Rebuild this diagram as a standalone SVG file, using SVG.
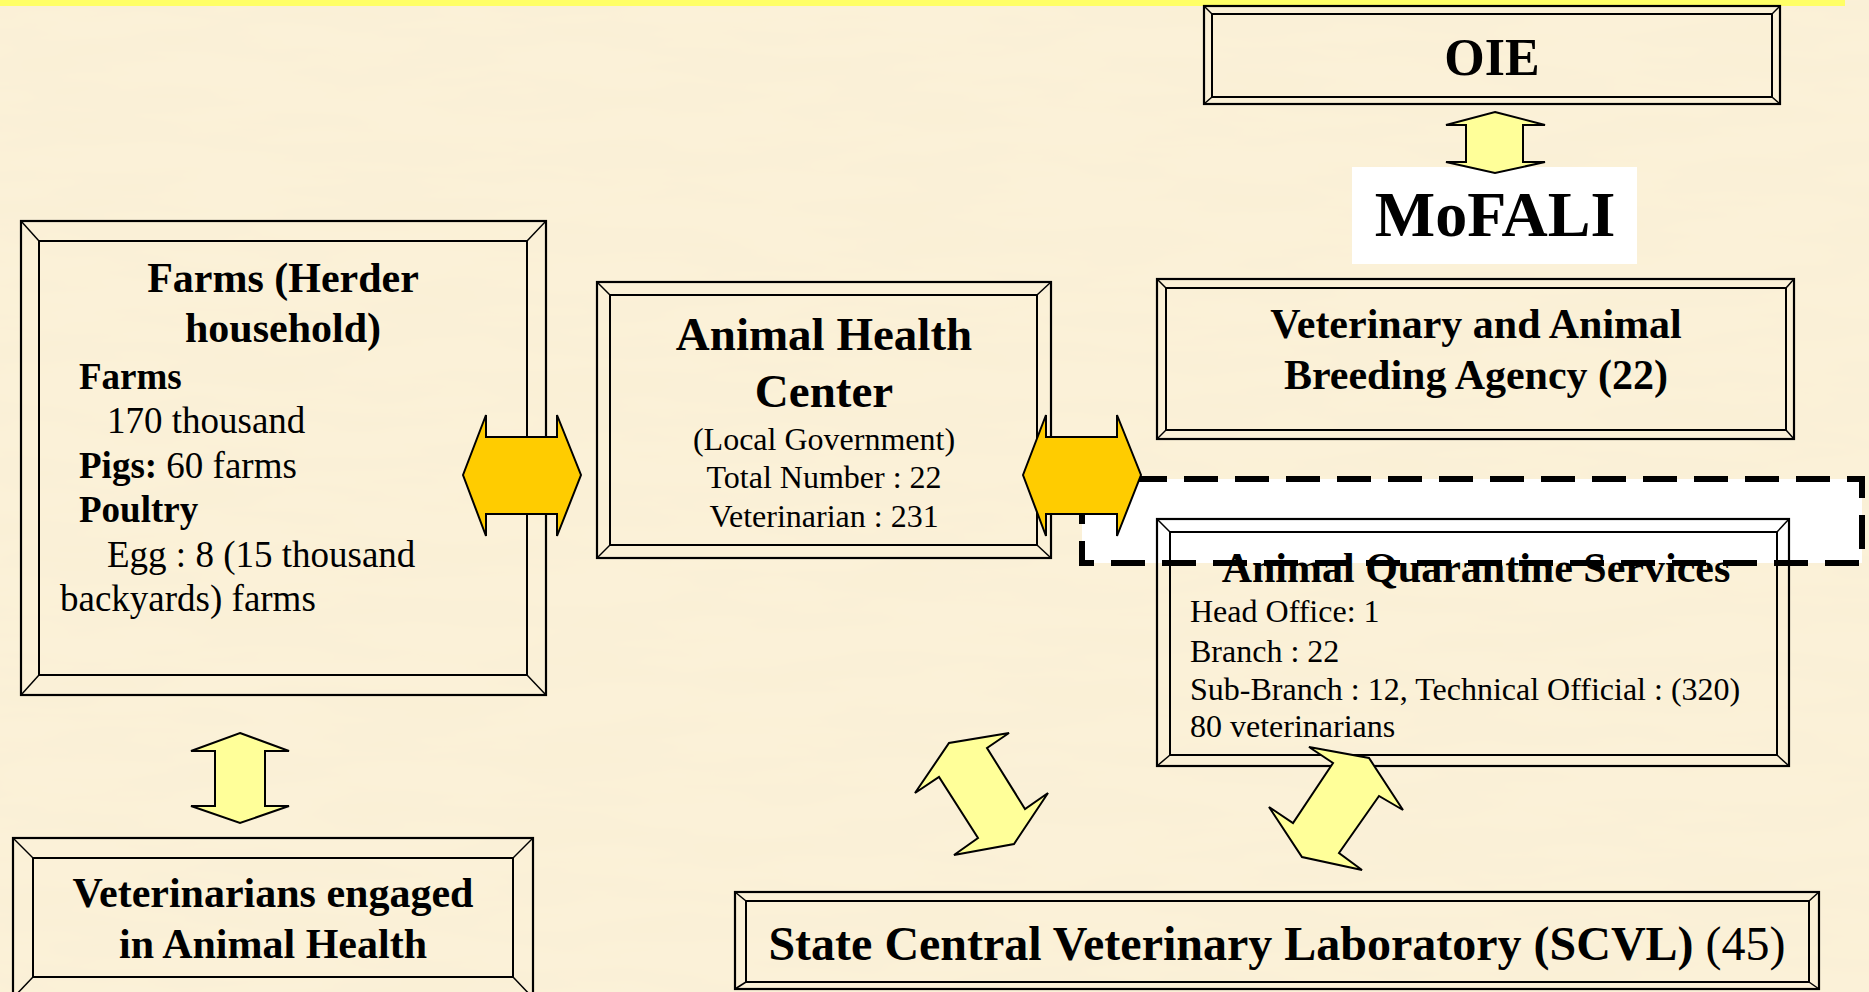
<svg xmlns="http://www.w3.org/2000/svg" width="1869" height="992" viewBox="0 0 1869 992">
<defs>
<style>
.bg{fill:#FBF1D8}
.o{fill:none;stroke:#000;stroke-width:2.2}
.i{fill:none;stroke:#000;stroke-width:2}
.d{stroke:#000;stroke-width:1.5}
.t{font-family:"Liberation Serif","Times New Roman",serif;fill:#000}
.b{font-weight:bold}
.c{text-anchor:middle}
.ya{fill:#FFFF99;stroke:#000;stroke-width:2;stroke-linejoin:miter}
.oa{fill:#FFCC00;stroke:#000;stroke-width:2;stroke-linejoin:miter}
</style>
<filter id="paper" x="0" y="0" width="100%" height="100%">
<feTurbulence type="fractalNoise" baseFrequency="0.006 0.035" numOctaves="3" seed="7"/>
<feColorMatrix type="matrix" values="0 0 0 0 0.92  0 0 0 0 0.83  0 0 0 0 0.62  0.4 0 0 0 -0.12"/>
</filter>
</defs>
<rect class="bg" x="0" y="0" width="1869" height="992"/>
<rect x="0" y="0" width="1869" height="992" filter="url(#paper)"/>
<rect x="0" y="0" width="1845" height="6" fill="#FFFF66"/>

<g id="quarantine-frame">
<rect x="1082" y="479" width="780" height="84" fill="#FFFFFF" stroke="#000" stroke-width="6" stroke-dasharray="34 17"/>
</g>

<g id="oie">
<rect class="o" x="1204" y="6" width="576" height="98"/>
<rect class="i" x="1212" y="14" width="560" height="83"/>
<line class="d" x1="1204" y1="6" x2="1212" y2="14"/><line class="d" x1="1780" y1="6" x2="1772" y2="14"/>
<line class="d" x1="1204" y1="104" x2="1212" y2="97"/><line class="d" x1="1780" y1="104" x2="1772" y2="97"/>
<text class="t b c" x="1492" y="75" font-size="52">OIE</text>
</g>

<g id="mofali">
<rect x="1352" y="167" width="285" height="97" fill="#FFFFFF"/>
<text class="t b c" x="1495" y="236" font-size="64">MoFALI</text>
</g>

<g id="vet-agency">
<rect class="o" x="1157" y="279" width="637" height="160"/>
<rect class="i" x="1166" y="288" width="620" height="142"/>
<line class="d" x1="1157" y1="279" x2="1166" y2="288"/><line class="d" x1="1794" y1="279" x2="1786" y2="288"/>
<line class="d" x1="1157" y1="439" x2="1166" y2="430"/><line class="d" x1="1794" y1="439" x2="1786" y2="430"/>
<text class="t b c" x="1476" y="338" font-size="42">Veterinary and Animal</text>
<text class="t b c" x="1476" y="389" font-size="42">Breeding Agency (22)</text>
</g>

<g id="aqs">
<rect class="o" x="1157" y="519" width="632" height="247"/>
<rect class="i" x="1170" y="532" width="607" height="223"/>
<line class="d" x1="1157" y1="519" x2="1170" y2="532"/><line class="d" x1="1789" y1="519" x2="1777" y2="532"/>
<line class="d" x1="1157" y1="766" x2="1170" y2="755"/><line class="d" x1="1789" y1="766" x2="1777" y2="755"/>
<text class="t b c" x="1476" y="582" font-size="42">Animal Quarantine Services</text>
<text class="t" x="1190" y="622" font-size="32">Head Office: 1</text>
<text class="t" x="1190" y="662" font-size="32">Branch : 22</text>
<text class="t" x="1190" y="700" font-size="32">Sub-Branch : 12, Technical Official : (320)</text>
<text class="t" x="1190" y="737" font-size="32">80 veterinarians</text>
</g>

<g id="farms">
<rect class="o" x="21" y="221" width="525" height="474"/>
<rect class="i" x="39" y="241" width="488" height="434"/>
<line class="d" x1="21" y1="221" x2="39" y2="241"/><line class="d" x1="546" y1="221" x2="527" y2="241"/>
<line class="d" x1="21" y1="695" x2="39" y2="675"/><line class="d" x1="546" y1="695" x2="527" y2="675"/>
<text class="t b c" x="283" y="292" font-size="42">Farms (Herder</text>
<text class="t b c" x="283" y="342" font-size="42">household)</text>
<text class="t b" x="79" y="389" font-size="37">Farms</text>
<text class="t" x="107" y="433" font-size="37">170 thousand</text>
<text class="t" x="79" y="478" font-size="37"><tspan class="b">Pigs:</tspan> 60 farms</text>
<text class="t b" x="79" y="522" font-size="37">Poultry</text>
<text class="t" x="107" y="567" font-size="37">Egg : 8 (15 thousand</text>
<text class="t" x="60" y="611" font-size="37">backyards) farms</text>
</g>

<g id="ahc">
<rect class="o" x="597" y="282" width="454" height="276"/>
<rect class="i" x="610" y="295" width="427" height="250"/>
<line class="d" x1="597" y1="282" x2="610" y2="295"/><line class="d" x1="1051" y1="282" x2="1037" y2="295"/>
<line class="d" x1="597" y1="558" x2="610" y2="545"/><line class="d" x1="1051" y1="558" x2="1037" y2="545"/>
<text class="t b c" x="824" y="350" font-size="47">Animal Health</text>
<text class="t b c" x="824" y="407" font-size="47">Center</text>
<text class="t c" x="824" y="450" font-size="32">(Local Government)</text>
<text class="t c" x="824" y="488" font-size="32">Total Number : 22</text>
<text class="t c" x="824" y="527" font-size="32">Veterinarian : 231</text>
</g>

<g id="vets-engaged">
<rect class="o" x="13" y="838" width="520" height="160"/>
<rect class="i" x="33" y="858" width="480" height="119"/>
<line class="d" x1="13" y1="838" x2="33" y2="858"/><line class="d" x1="533" y1="838" x2="513" y2="858"/>
<line class="d" x1="13" y1="998" x2="33" y2="977"/><line class="d" x1="533" y1="998" x2="513" y2="977"/>
<text class="t b c" x="273" y="907" font-size="42">Veterinarians engaged</text>
<text class="t b c" x="273" y="958" font-size="42">in Animal Health</text>
</g>

<g id="scvl">
<rect class="o" x="735" y="892" width="1084" height="97"/>
<rect class="i" x="746" y="901" width="1063" height="81"/>
<line class="d" x1="735" y1="892" x2="746" y2="901"/><line class="d" x1="1819" y1="892" x2="1809" y2="901"/>
<line class="d" x1="735" y1="989" x2="746" y2="982"/><line class="d" x1="1819" y1="989" x2="1809" y2="982"/>
<text class="t c" x="1277" y="960" font-size="48"><tspan class="b">State Central Veterinary Laboratory (SCVL)</tspan> (45)</text>
</g>

<g id="connectors">
<polygon class="ya" points="1495,112 1545,125 1523,125 1523,162 1545,162 1495,173 1446,162 1466,162 1466,125 1446,125"/>
<polygon class="ya" points="240,733 289,751 265,751 265,806 289,806 240,823 191,806 215,806 215,751 191,751"/>
<polygon class="oa" points="463,475 486,415 486,437 557,437 557,415 581,475 557,536 557,514 486,514 486,536"/>
<polygon class="oa" points="1023,475 1046,415 1046,437 1117,437 1117,415 1141,475 1117,536 1117,514 1046,514 1046,536"/>
<polygon class="ya" points="1009,733 949,743 915,793 939,777 978,838 954,855 1014,844 1048,793 1025,809 987,748"/>
<polygon class="ya" points="1309,747 1369,758 1403,810 1379,796 1339,853 1362,870 1302,857 1269,807 1293,823 1333,763"/>
</g>
</svg>
